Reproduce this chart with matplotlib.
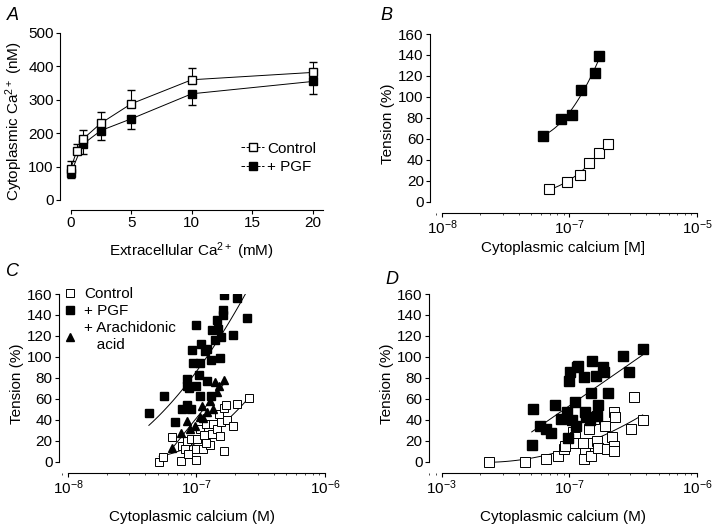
import matplotlib
matplotlib.use("Agg")
import matplotlib.pyplot as plt
import numpy as np
from matplotlib.lines import Line2D

plt.rcParams['font.family'] = ['Liberation Sans', 'DejaVu Sans']
plt.rcParams['mathtext.fontset'] = 'custom'
plt.rcParams['mathtext.rm'] = 'Liberation Sans'
plt.rcParams['mathtext.it'] = 'Liberation Sans:italic'

# ---- panel A: cytoplasmic Ca vs extracellular Ca ----
a_ctrl_x = [0, 0.5, 1, 2.5, 5, 10, 20]
a_ctrl_y = [93, 147, 182, 230, 288, 360, 382]
a_ctrl_err = [25, 21, 28, 33, 40, 35, 30]
a_pgf_x = [0, 1, 2.5, 5, 10, 20]
a_pgf_y = [80, 167, 208, 243, 318, 355]
a_pgf_err = [15, 30, 28, 30, 34, 38]

# ---- panel B (x in units of 1e-7 M) ----
b_pgf_x = [0.625, 0.86, 1.05, 1.23, 1.59, 1.70]
b_pgf_y = [63, 79, 83, 107, 123, 139]
b_ctrl_x = [0.685, 0.95, 1.20, 1.42, 1.70, 2.02]
b_ctrl_y = [12, 19, 26, 37, 47, 55]

# ---- panel C ----
c_pgf_x = [0.426, 0.56, 0.678, 0.773, 0.836, 0.851, 0.836, 1.0, 1.049, 0.942,
           1.061, 0.925, 1.081, 1.211, 1.0, 1.061, 1.301, 0.903, 1.211, 1.293,
           1.52, 1.309, 1.475, 1.432, 1.594, 1.633, 2.074, 1.93, 1.565, 2.454,
           1.614, 1.39, 1.16, 0.88]
c_pgf_y = [47, 63, 38, 50, 54, 79, 72, 72, 83, 94,
           94, 107, 112, 108, 130, 63, 63, 50, 77, 97,
           99, 126, 127, 135, 145, 159, 156, 121, 119, 137,
           140, 116, 106, 70]
c_ara_x = [0.65, 0.764, 0.836, 0.887, 1.061, 1.094, 1.127, 1.211, 1.27, 1.39,
           1.449, 1.502, 1.633, 1.348, 0.97]
c_ara_y = [13, 28, 39, 31, 43, 53, 42, 48, 58, 76,
           67, 72, 78, 50, 34]
c_ctrl_x = [0.512, 0.55, 0.639, 0.755, 0.778, 0.811, 0.836, 0.861, 0.914, 0.988,
            1.0, 1.018, 1.061, 1.127, 1.14, 1.182, 1.27, 1.309, 1.348, 1.432,
            1.484, 1.52, 1.538, 1.633, 1.633, 1.692, 1.713, 1.93, 2.074, 2.57,
            1.196]
c_ctrl_y = [0, 5, 24, 1, 15, 12, 20, 8, 22, 2,
            12, 22, 31, 12, 26, 36, 16, 27, 36, 31,
            46, 25, 38, 51, 10, 54, 40, 34, 55, 61,
            18]

# ---- panel D ----
d_pgf_x = [0.507, 0.516, 0.589, 0.656, 0.714, 0.773, 0.866, 0.953, 0.994, 1.012,
           0.982, 1.049, 1.107, 1.128, 1.141, 1.176, 1.303, 1.327, 1.351, 1.452,
           1.478, 1.514, 1.607, 1.657, 1.687, 1.847, 1.88, 2.02, 2.648, 2.95,
           3.753]
d_pgf_y = [16, 50, 34, 31, 28, 54, 41, 48, 77, 86,
           23, 40, 57, 34, 90, 91, 81, 48, 43, 40,
           66, 96, 82, 44, 54, 90, 86, 66, 101, 86,
           108]
d_ctrl_x = [0.233, 0.45, 0.656, 0.81, 0.908, 0.925, 1.075, 1.107, 1.107, 1.303,
            1.327, 1.409, 1.434, 1.478, 1.57, 1.637, 1.667, 1.902, 1.984, 2.146,
            2.238, 2.278, 2.253, 2.253, 3.02, 3.21, 3.753, 1.287]
d_ctrl_y = [0, 0, 3, 6, 12, 15, 29, 24, 18, 3,
            12, 18, 31, 6, 41, 20, 13, 34, 12, 24,
            48, 43, 15, 10, 31, 62, 40, 18]

W, H = 720, 526
FS = 11
fig = plt.figure(figsize=(7.2, 5.26), dpi=100)


def ax_px(left, right, bottom, top):
    return fig.add_axes([left / W, (H - bottom) / H, (right - left) / W, (bottom - top) / H])


def style(ax):
    for s in ['top', 'right']:
        ax.spines[s].set_visible(False)
    ax.spines['left'].set_linewidth(0.8)
    ax.spines['bottom'].set_linewidth(0.8)
    ax.tick_params(length=3, width=0.8, labelsize=FS, pad=1.5)


def fit_line(ax, x, y, deg=2):
    lx = np.log10(np.array(x) * 1e-7)
    p = np.polyfit(lx, y, deg)
    xs = np.linspace(lx.min(), lx.max(), 50)
    ax.plot(10 ** xs, np.polyval(p, xs), color='black', lw=0.7, zorder=1)


def log_axis(ax, labels):
    ax.set_xscale('log')
    ax.set_xticks([1e-8, 1e-7, 1e-6])
    ax.set_xticklabels(labels)
    ax.xaxis.set_minor_locator(matplotlib.ticker.LogLocator(subs=np.arange(2, 10), numticks=20))
    ax.xaxis.set_minor_formatter(matplotlib.ticker.NullFormatter())
    ax.tick_params(axis='x', which='minor', length=1.5, width=0.5)
    ax.tick_params(axis='x', which='major', pad=1)
    ax.set_ylim(-10.5, 160)
    ax.set_yticks(range(0, 161, 20))
    ax.spines['left'].set_bounds(0, 160)


# ---- A ----
axA = ax_px(60, 323, 210, 33)
style(axA)
axA.errorbar(a_ctrl_x, a_ctrl_y, yerr=[np.zeros(len(a_ctrl_err)), a_ctrl_err], fmt='s-',
             color='black', mfc='white', ms=6, lw=0.7, capsize=3, elinewidth=0.8, zorder=3)
axA.errorbar(a_pgf_x, a_pgf_y, yerr=[a_pgf_err, np.zeros(len(a_pgf_err))], fmt='s-',
             color='black', mfc='black', ms=6, lw=0.7, capsize=3, elinewidth=0.8, zorder=2)
axA.set_xlim(-0.88, 20.83)
axA.set_ylim(-30, 500)
axA.spines['left'].set_bounds(0, 500)
axA.spines['bottom'].set_bounds(0, 20.83)
axA.set_xticks([0, 5, 10, 15, 20])
axA.set_yticks(range(0, 501, 100))
axA.set_ylabel('Cytoplasmic Ca$^{2+}$ (nM)', fontsize=FS, labelpad=2)
axA.set_xlabel('Extracellular Ca$^{2+}$ (mM)', fontsize=FS, labelpad=7)
hA = [Line2D([], [], color='black', lw=0.7, ls='--', marker='s', mfc='white', ms=6),
      Line2D([], [], color='black', lw=0.7, ls='--', marker='s', mfc='black', ms=6)]
axA.legend(hA, ['Control', '+ PGF'], loc='upper left', bbox_to_anchor=(0.66, 0.43),
           frameon=False, fontsize=FS, handlelength=1.5, handletextpad=0.2,
           labelspacing=0.3, borderpad=0)
fig.text(7 / W, 1 - 15 / H, 'A', fontsize=13, style='italic', va='center')

# ---- B ----
axB = ax_px(430, 697, 213, 34)
style(axB)
log_axis(axB, ['$10^{-8}$', '$10^{-7}$', '$10^{-5}$'])
axB.set_xlim(10 ** -8.094, 1e-6)
axB.spines['bottom'].set_bounds(1e-8, 1e-6)
fit_line(axB, b_pgf_x, b_pgf_y)
fit_line(axB, b_ctrl_x, b_ctrl_y)
axB.plot(np.array(b_pgf_x) * 1e-7, b_pgf_y, 's', color='black', ms=7, zorder=3)
axB.plot(np.array(b_ctrl_x) * 1e-7, b_ctrl_y, 's', color='black', mfc='white', ms=7,
         mew=0.8, zorder=3)
axB.set_ylabel('Tension (%)', fontsize=FS, labelpad=2)
axB.set_xlabel('Cytoplasmic calcium [M]', fontsize=FS, labelpad=3)
fig.text(380 / W, 1 - 15 / H, 'B', fontsize=13, style='italic', va='center')

# ---- C ----
axC = ax_px(59, 325, 473, 294)
style(axC)
log_axis(axC, ['$10^{-8}$', '$10^{-7}$', '$10^{-6}$'])
axC.set_xlim(10 ** -8.07, 1e-6)
axC.spines['bottom'].set_bounds(1e-8, 1e-6)
fit_line(axC, c_pgf_x, c_pgf_y)
fit_line(axC, c_ara_x, c_ara_y, 1)
fit_line(axC, c_ctrl_x, c_ctrl_y)
axC.plot(np.array(c_ctrl_x) * 1e-7, c_ctrl_y, 's', color='black', mfc='white', ms=6,
         mew=0.7, zorder=2)
axC.plot(np.array(c_pgf_x) * 1e-7, c_pgf_y, 's', color='black', ms=6, zorder=3)
axC.plot(np.array(c_ara_x) * 1e-7, c_ara_y, '^', color='black', ms=6, zorder=4)
axC.set_ylabel('Tension (%)', fontsize=FS, labelpad=2)
axC.set_xlabel('Cytoplasmic calcium (M)', fontsize=FS, labelpad=9)
hC = [Line2D([], [], ls='none', marker='s', color='black', mfc='white', ms=6, mew=0.7),
      Line2D([], [], ls='none', marker='s', color='black', ms=6),
      Line2D([], [], ls='none', marker='^', color='black', ms=6)]
axC.legend(hC, ['Control', '+ PGF', '+ Arachidonic\n   acid'], loc='upper left',
           bbox_to_anchor=(-0.01, 1.08), frameon=False, fontsize=FS, handlelength=0.8,
           handletextpad=0.5, labelspacing=0.2, borderpad=0)
fig.text(6 / W, 1 - 272 / H, 'C', fontsize=13, style='italic', va='center')

# ---- D ----
axD = ax_px(429, 697, 473, 294)
style(axD)
log_axis(axD, ['$10^{-3}$', '$10^{-7}$', '$10^{-6}$'])
axD.set_xlim(10 ** -8.1, 1e-6)
axD.spines['bottom'].set_bounds(1e-8, 1e-6)
fit_line(axD, d_pgf_x, d_pgf_y, 1)
fit_line(axD, d_ctrl_x, d_ctrl_y)
axD.plot(np.array(d_ctrl_x) * 1e-7, d_ctrl_y, 's', color='black', mfc='white', ms=6.5,
         mew=0.7, zorder=2)
axD.plot(np.array(d_pgf_x) * 1e-7, d_pgf_y, 's', color='black', ms=6.5, zorder=3)
axD.set_ylabel('Tension (%)', fontsize=FS, labelpad=2)
axD.set_xlabel('Cytoplasmic calcium (M)', fontsize=FS, labelpad=9)
fig.text(385 / W, 1 - 280 / H, 'D', fontsize=13, style='italic', va='center')

fig.savefig('out.png', dpi=100)
